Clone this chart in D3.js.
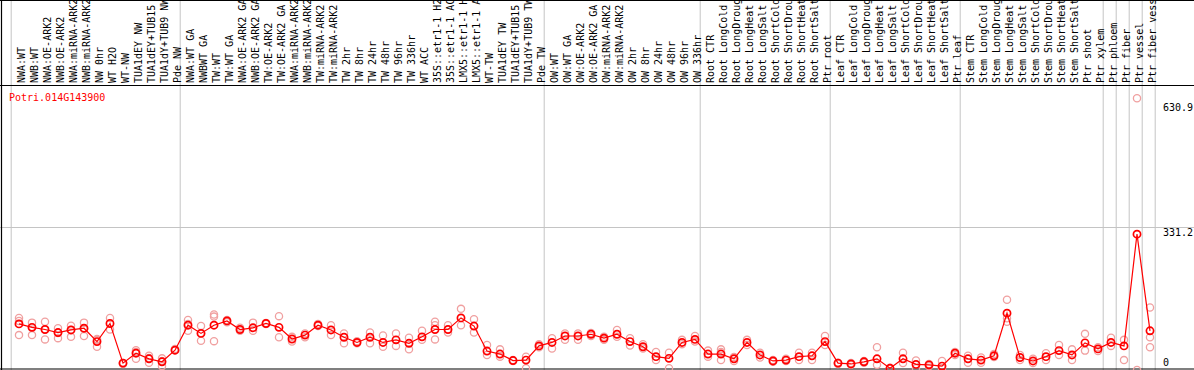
<!DOCTYPE html>
<html><head><meta charset="utf-8">
<script src="https://cdn.jsdelivr.net/npm/d3@7"></script>
<style>
html,body{margin:0;padding:0;background:#fff;overflow:hidden}
svg text{font-family:"DejaVu Sans Mono",monospace;font-size:10px}
</style></head>
<body>
<svg id="chart" width="1194" height="370"></svg>
<script>
const title = "Potri.014G143900";
const categories = [
 "NWA:WT","NWB:WT","NWA:OE-ARK2","NWB:OE-ARK2","NWA:miRNA-ARK2","NWB:miRNA-ARK2","NW 0hr","WT H2O","WT-NW","TUA1dEY NW","TUA1dEY+TUB15","TUA1dY+TUB9 NW","Pde NW",
 "NWA:WT GA","NWBWT GA","TW:WT","TW:WT GA","NWA:OE-ARK2 GA","NWB:OE-ARK2 GA","TW:OE-ARK2","TW:OE-ARK2 GA","NWA:miRNA-ARK2","NWB:miRNA-ARK2","TW:miRNA-ARK2","TW:miRNA-ARK2","TW 2hr","TW 8hr","TW 24hr","TW 48hr","TW 96hr","TW 336hr","WT ACC","35S::etr1-1 H2O","35S::etr1-1 ACC","LMX5::etr1-1 H2O","LMX5::etr1-1 ACC","WT-TW","TUA1dEY TW","TUA1dEY+TUB15","TUA1dY+TUB9 TW","Pde TW",
 "OW:WT","OW:WT GA","OW:OE-ARK2","OW:OE-ARK2 GA","OW:miRNA-ARK2","OW:miRNA-ARK2","OW 2hr","OW 8hr","OW 24hr","OW 48hr","OW 96hr","OW 336hr",
 "Root CTR","Root LongCold","Root LongDrought","Root LongHeat","Root LongSalt","Root ShortCold","Root ShortDrought","Root ShortHeat","Root ShortSalt","Ptr root",
 "Leaf CTR","Leaf LongCold","Leaf LongDrought","Leaf LongHeat","Leaf LongSalt","Leaf ShortCold","Leaf ShortDrought","Leaf ShortHeat","Leaf ShortSalt","Ptr leaf",
 "Stem CTR","Stem LongCold","Stem LongDrought","Stem LongHeat","Stem LongSalt","Stem ShortCold","Stem ShortDrought","Stem ShortHeat","Stem ShortSalt","Ptr shoot","Ptr xylem",
 "Ptr phloem","Ptr fiber","Ptr vessel","Ptr fiber vessel"
];
// group boundaries (index of first column of each group, plus end)
const groupStarts = [0,13,41,53,63,73,84,85,86,87,88];
const means = [
 107,99,94,87,93,97,66,108,16,39,26,19,46,
 104,85,104,114,94,98,108,99,72,81,104,93,76,64,76,64,70,62,77,94,94,121,102,44,37,22,23,56,
 64,79,79,83,74,83,66,54,31,27,64,71,
 37,37,26,64,35,21,23,31,33,66,
 16,14,19,26,4,26,13,12,9,39,
 26,23,33,132,29,21,31,45,35,63,49,
 64,56,315.45,91
];
const replicates = [
 [121,114,81],[110,81,98],[112,71,94],[97,74,86],[103,77,93],[110,79,95],[70,54,72],[121,94],[14,16],[42,26,46],[33,17,28],[27,9,21],[46,49],
 [116,91,107],[102,68,86],[129,124,67],[116,111],[98,91],[110,91],[109,107],[125,76],[77,66],[85,76],[107,102],[104,81],[85,62],[67,62],[87,62],[80,54],[85,56],[75,48],[91,70],[112,104,71],[104,87],[142,104],[118,87],[58,35],[48,31],[23,21],[31,4],[60,53],
 [74,50],[85,70],[85,70],[86,79],[77,70],[93,77],[74,57],[60,50],[42,23],[40,4],[70,60],[79,66],
 [45,31],[48,23,42],[30,21],[70,58],[40,29],[23,19],[26,21],[40,23],[40,23],[79,58],
 [17,14],[16,12],[21,17],[53,12],[5,3],[40,16],[22,4],[14,9],[21,4],[42,35],
 [33,17],[29,17],[37,30],[163,120,112],[35,23],[26,16],[39,23],[58,35],[48,23],[84,45],[53,44],
 [75,56],[70,23],[630.9,0],[145,76,53]
];
const yTicks = [630.9, 331.2, 0];
const gridTicks = [331.2];

const W = 1194, H = 370;
const svg = d3.select("#chart");
const x = d3.scaleLinear().domain([0, categories.length - 1]).range([19, 1150]);
const y = d3.scaleLinear().domain([0, 630.9]).range([370, 98.3]);

// vertical group gridlines
svg.append("g").selectAll("line").data(groupStarts).join("line")
  .attr("x1", d => x(d) - 7.8).attr("x2", d => x(d) - 7.8)
  .attr("y1", 0).attr("y2", H)
  .attr("stroke", "#c4c4c4").attr("stroke-width", 1);

// horizontal grid line(s)
svg.append("g").selectAll("line").data(gridTicks).join("line")
  .attr("x1", 0).attr("x2", W)
  .attr("y1", d => Math.round(y(d)) + 0.5).attr("y2", d => Math.round(y(d)) + 0.5)
  .attr("stroke", "#c4c4c4").attr("stroke-width", 1);

// frame lines
const frame = svg.append("g").attr("stroke", "#000").attr("stroke-width", 1.2);
frame.append("line").attr("x1", 0).attr("x2", W).attr("y1", 0.5).attr("y2", 0.5);
frame.append("line").attr("x1", 0).attr("x2", W).attr("y1", 85.5).attr("y2", 85.5);
frame.append("line").attr("x1", 0).attr("x2", W).attr("y1", 369).attr("y2", 369);
frame.append("line").attr("x1", 1.5).attr("x2", 1.5).attr("y1", 0).attr("y2", H);

// column labels
svg.append("g").selectAll("text").data(categories).join("text")
  .attr("transform", (d, i) => `translate(${x(i) + 5.5},83) rotate(-90)`)
  .attr("fill", "#000")
  .text(d => d);

// title
svg.append("text").attr("x", 9).attr("y", 100.5).attr("fill", "#ff0000").text(title);

// y tick labels (right)
svg.append("g").selectAll("text").data(yTicks).join("text")
  .attr("x", 1163)
  .attr("y", d => Math.max(110.5, Math.min(366, y(d) + 9)))
  .attr("fill", "#000")
  .text(d => d);

// replicate points
const repPts = [];
replicates.forEach((arr, i) => arr.forEach(v => repPts.push({i, v})));
svg.append("g").selectAll("circle").data(repPts).join("circle")
  .attr("cx", d => x(d.i)).attr("cy", d => y(d.v)).attr("r", 3.6)
  .attr("fill", "none").attr("stroke", "#f0a0a0").attr("stroke-width", 1.3);

// mean line
svg.append("path").datum(means)
  .attr("d", d3.line().x((d, i) => x(i)).y(d => y(d)))
  .attr("fill", "none").attr("stroke", "#ff0000").attr("stroke-width", 1.2);

// mean points
svg.append("g").selectAll("circle").data(means).join("circle")
  .attr("cx", (d, i) => x(i)).attr("cy", d => y(d)).attr("r", 3.6)
  .attr("fill", "none").attr("stroke", "#ff0000").attr("stroke-width", 1.7);
</script>
</body></html>
